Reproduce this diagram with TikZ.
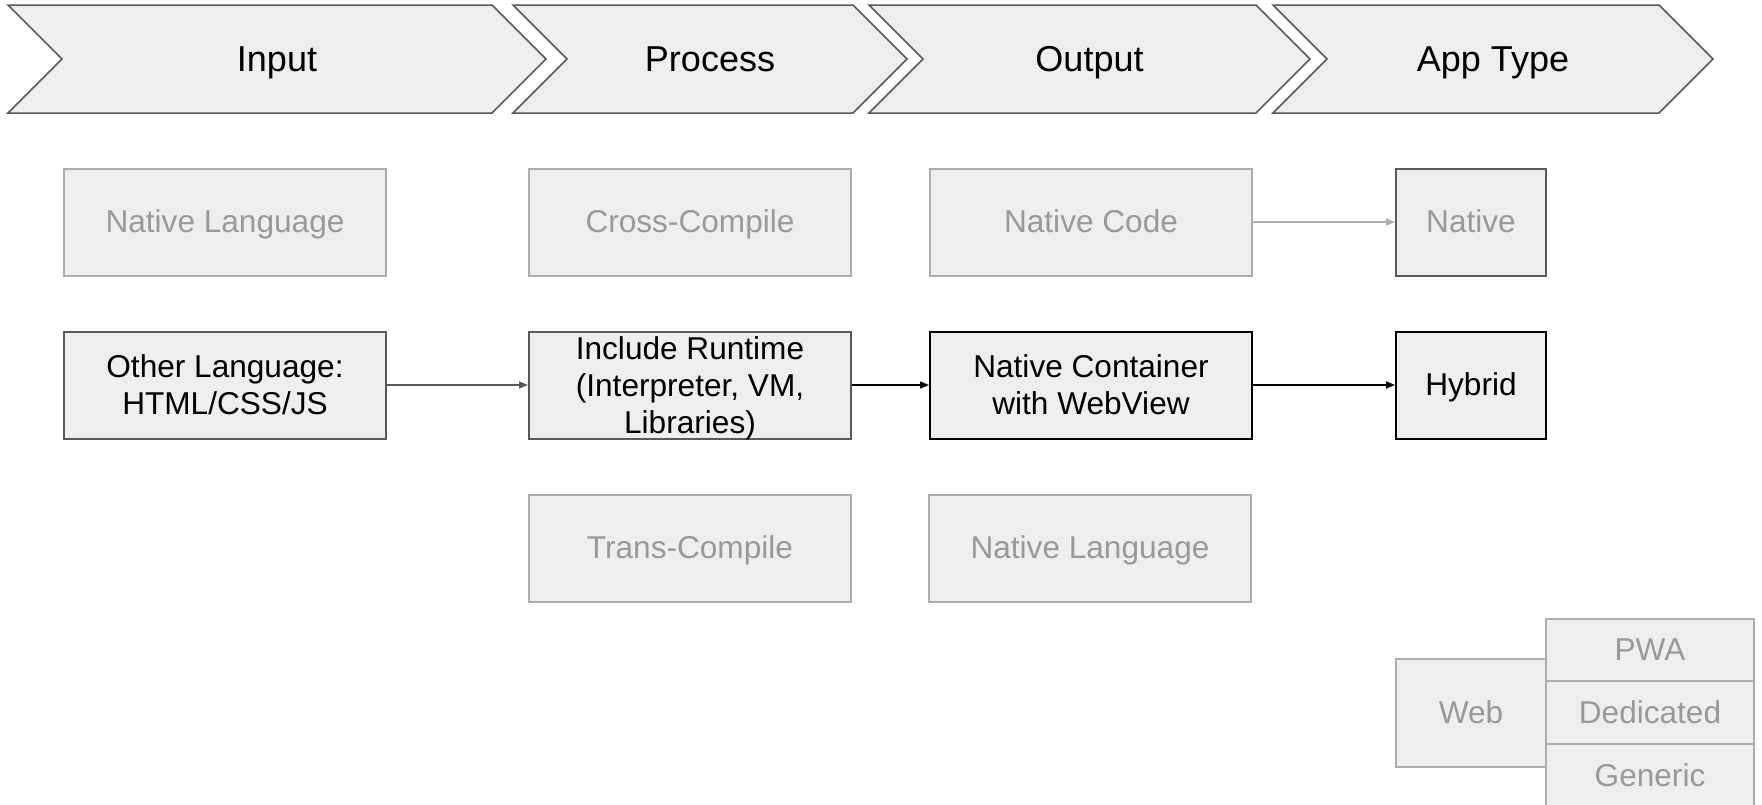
\documentclass[tikz,border=0pt]{standalone}
\usepackage{fontspec}
\setmainfont{Liberation Sans}
\usetikzlibrary{arrows.meta}
\definecolor{boxfill}{HTML}{EEEEEE}
\definecolor{darkline}{HTML}{595959}
\definecolor{lightline}{HTML}{ADADAD}
\definecolor{graytext}{HTML}{999999}
\begin{document}
\begin{tikzpicture}[x=0.5pt,y=-0.5pt,
  chev/.style={fill=boxfill,draw=darkline,line width=0.75pt,line join=miter},
  oneline/.style={text height=14.3pt,text depth=3.35pt},
  chevtext/.style={font=\fontsize{18}{21}\selectfont,text=black,inner sep=0pt,
    text height=16.3pt,text depth=3.8pt},
  bx/.style={fill=boxfill,line width=1pt,minimum width=161pt,minimum height=53.5pt,
    inner sep=0pt,align=center,font=\fontsize{15.8}{18.4}\selectfont},
  narrow/.style={minimum width=75pt},
  graybox/.style={bx,draw=lightline,text=graytext,oneline},
  darkbox/.style={bx,draw=darkline,text=black},
  blackbox/.style={bx,draw=black,text=black},
  webcell/.style={fill=boxfill,draw=lightline,line width=1pt,text=graytext,
    minimum width=104pt,minimum height=31.5pt,inner sep=0pt,oneline,
    font=\fontsize{15.8}{18.4}\selectfont},
  arr/.style={line width=0.75pt,-{Triangle[length=4.5pt,width=3.5pt]}}
]
\useasboundingbox (0,0) rectangle (1762,804);

% chevrons
\draw[chev] (8,5) -- (492,5) -- (546,59) -- (492,113) -- (8,113) -- (62,59) -- cycle;
\draw[chev] (513,5) -- (853,5) -- (907,59) -- (853,113) -- (513,113) -- (567,59) -- cycle;
\draw[chev] (869,5) -- (1256,5) -- (1310,59) -- (1256,113) -- (869,113) -- (923,59) -- cycle;
\draw[chev] (1273,5) -- (1659,5) -- (1713,59) -- (1659,113) -- (1273,113) -- (1327,59) -- cycle;
\node[chevtext] (tin) at (277,59) {Input};
\node[chevtext] (tpr) at (710,59) {Process};
\node[chevtext] (tou) at (1089.5,59) {Output};
\node[chevtext] (tap) at (1493,59) {App Type};

% row 1
\node[graybox] (nl1) at (225,222) {Native Language};
\node[graybox] (cc) at (690,222) {Cross-Compile};
\node[graybox] (nc) at (1091,222) {Native Code};
\node[bx,narrow,draw=darkline,text=graytext,oneline] (nat) at (1471,222) {Native};

% row 2
\node[darkbox] (oth) at (225,385) {Other Language:\\HTML/CSS/JS};
\node[darkbox] (inc) at (690,385) {Include Runtime\\(Interpreter, VM,\\\smash{Libraries)}};
\node[blackbox] (ncw) at (1091,385) {Native Container\\with WebView};
\node[blackbox,narrow,oneline] (hyb) at (1471,385) {Hybrid};

% row 3
\node[graybox] (tc) at (690,548) {Trans-Compile};
\node[graybox] (nl2) at (1090,548) {Native Language};

% web group
\node[graybox,narrow,minimum height=54pt] (web) at (1471,713) {Web};
\node[webcell] (pwa) at (1650,650) {PWA};
\node[webcell] (ded) at (1650,712.5) {Dedicated};
\node[webcell] (gen) at (1650,775.5) {Generic};

% connectors
\draw[arr,draw=lightline,fill=lightline] (nc.east) -- (nat.west);
\draw[arr,draw=darkline,fill=darkline] (oth.east) -- (inc.west);
\draw[arr,draw=black] (inc.east) -- (ncw.west);
\draw[arr,draw=black] (ncw.east) -- (hyb.west);
\end{tikzpicture}
\end{document}
